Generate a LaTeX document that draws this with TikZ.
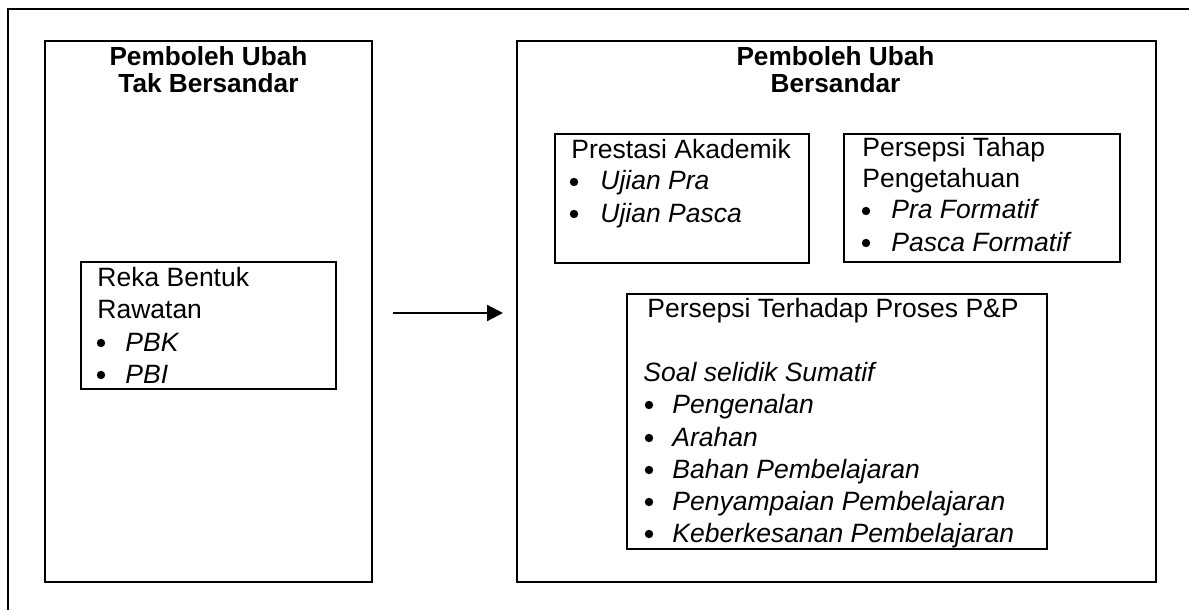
\documentclass[tikz,border=0pt]{standalone}
\usepackage{fontspec}
\setmainfont{Liberation Sans}
\usetikzlibrary{arrows.meta}
\begin{document}
\begin{tikzpicture}[x=0.5pt,y=-0.5pt,
  box/.style={draw, line width=1.3pt, rectangle, inner sep=0pt},
  txt/.style={anchor=base west, inner sep=0pt, font=\fontsize{13.25}{15}\selectfont},
  itx/.style={anchor=base west, inner sep=0pt, font=\fontsize{13.25}{15}\selectfont\itshape},
  ttl/.style={anchor=base, inner sep=0pt, font=\fontsize{13.1}{15}\selectfont\bfseries},
  blt/.style={circle, fill, inner sep=0pt, minimum size=4.2pt}]
\useasboundingbox (0,0) rectangle (1189,610);
\clip (0,0) rectangle (1189,610);
% outer frame
\draw[line width=1.3pt] (8,615) -- (8,9) -- (1195,9);
% main boxes
\node[box, minimum width=163.5pt, minimum height=270.5pt] (left) at (208.5,311.5) {};
\node[box, minimum width=319.5pt, minimum height=270.5pt] (right) at (836.5,311.5) {};
% titles
\node[ttl] (lt1) at (208.5,66) {Pemboleh Ubah};
\node[ttl] (lt2) at (208.5,93) {Tak Bersandar};
\node[ttl] (rt1) at (835.5,66) {Pemboleh Ubah};
\node[ttl] (rt2) at (835.5,93) {Bersandar};
% Reka Bentuk box
\node[box, minimum width=127.5pt, minimum height=63.5pt] (reka) at (208.5,325.5) {};
\node[txt] (r1) at (97,286) {Reka Bentuk};
\node[txt] (r2) at (97,318) {Rawatan};
\node[blt] (rb1) at (101,343) {};
\node[itx] (r3) at (125,351) {PBK};
\node[blt] (rb2) at (101,375) {};
\node[itx] (r4) at (125,383) {PBI};
% Prestasi box
\node[box, minimum width=127pt, minimum height=64.5pt] (pres) at (682,198.5) {};
\node[txt] (p1) at (571,158) {Prestasi Akademik};
\node[blt] (pb1) at (574,182) {};
\node[itx] (p2) at (600,190) {Ujian Pra};
\node[blt] (pb2) at (574,214) {};
\node[itx] (p3) at (600,222) {Ujian Pasca};
% Persepsi Tahap box
\node[box, minimum width=138pt, minimum height=64pt] (tahap) at (982,198) {};
\node[txt] (t1) at (862,156) {Persepsi Tahap};
\node[txt] (t2) at (862,187) {Pengetahuan};
\node[blt] (tb1) at (866,211) {};
\node[itx] (t3) at (891,219) {Pra Formatif};
\node[blt] (tb2) at (866,243) {};
\node[itx] (t4) at (891,251) {Pasca Formatif};
% Persepsi Terhadap box
\node[box, minimum width=210pt, minimum height=127.5pt] (proses) at (837,421.5) {};
\node[txt] (q1) at (647,317) {Persepsi Terhadap Proses P\&P};
\node[itx] (q2) at (643,381) {Soal selidik Sumatif};
\node[blt] (qb1) at (649,405) {};
\node[itx] (q3) at (672,413) {Pengenalan};
\node[blt] (qb2) at (649,438) {};
\node[itx] (q4) at (672,446) {Arahan};
\node[blt] (qb3) at (649,470) {};
\node[itx] (q5) at (672,478) {Bahan Pembelajaran};
\node[blt] (qb4) at (649,502) {};
\node[itx] (q6) at (672,510) {Penyampaian Pembelajaran};
\node[blt] (qb5) at (649,534) {};
\node[itx] (q7) at (672,542) {Keberkesanan Pembelajaran};
% arrow
\coordinate (a1) at (393,313);
\coordinate (a2) at (503,313);
\draw[line width=1.1pt, -{Triangle[length=8pt,width=8pt]}] (a1) -- (a2);
\end{tikzpicture}
\end{document}
